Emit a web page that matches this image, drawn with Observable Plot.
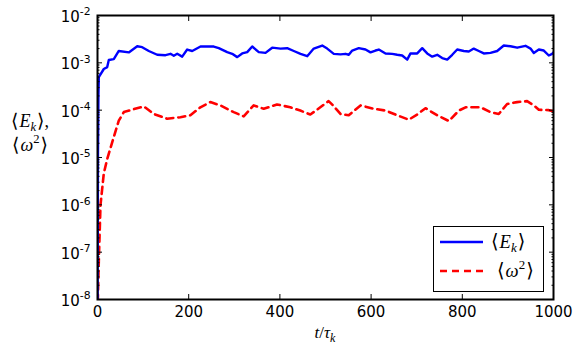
<!DOCTYPE html>
<html>
<head>
<meta charset="utf-8">
<script src="https://cdn.jsdelivr.net/npm/d3@7"></script>
<script src="https://cdn.jsdelivr.net/npm/@observablehq/plot@0.6"></script>
<style>
  html, body { margin: 0; padding: 0; background: white; }
  #chart { width: 581px; height: 351px; }
</style>
</head>
<body>
<div id="chart"></div>
<script>
// Kinetic energy <E_k> vs t/tau_k
const tE = [0, 1, 2, 2.9, 13.8, 21.3, 24.8, 35.7, 46.7, 68.6,
  87.1, 98.0, 112.5, 130.9, 149.1, 160.1, 167.3, 174.8, 185.7, 196.7,
  207.7, 225.9, 255.0, 266.0, 284.4, 295.4, 306.4, 317.3, 328.3, 339.3,
  353.7, 368.4, 383.1, 401.3, 416.0, 430.5, 445.2, 459.9, 474.3, 492.8,
  503.7, 518.2, 532.9, 543.9, 551.1, 558.6, 573.0, 587.7, 598.7, 609.6,
  616.9, 631.6, 646.3, 657.2, 668.2, 679.2, 686.4, 701.1, 712.1, 723.0,
  734.0, 745.0, 755.9, 766.9, 777.9, 788.8, 803.3, 814.3, 825.2, 836.2,
  847.1, 861.8, 876.5, 891.0, 905.7, 920.4, 938.6, 949.6, 956.8, 967.8,
  978.7, 989.7, 997.1, 1000];
const Ek = [1e-9, 1e-5, 2e-4, 5.01e-4, 7.41e-4, 8.13e-4, 1.15e-3, 1.20e-3, 1.78e-3, 1.66e-3,
  2.24e-3, 2.14e-3, 1.78e-3, 1.48e-3, 1.45e-3, 1.55e-3, 1.41e-3, 1.55e-3, 1.35e-3, 1.91e-3,
  1.78e-3, 2.21e-3, 2.21e-3, 2.04e-3, 1.68e-3, 1.55e-3, 1.32e-3, 1.58e-3, 1.68e-3, 2.21e-3,
  1.68e-3, 1.62e-3, 2.09e-3, 2.00e-3, 2.04e-3, 1.78e-3, 1.55e-3, 1.38e-3, 2.00e-3, 2.32e-3,
  2.00e-3, 1.55e-3, 1.51e-3, 1.55e-3, 1.48e-3, 1.82e-3, 2.04e-3, 1.91e-3, 1.66e-3, 1.82e-3,
  1.91e-3, 1.58e-3, 1.55e-3, 1.48e-3, 1.43e-3, 1.17e-3, 1.58e-3, 1.58e-3, 2.04e-3, 1.58e-3,
  1.35e-3, 1.48e-3, 1.26e-3, 1.17e-3, 1.48e-3, 1.91e-3, 1.78e-3, 1.74e-3, 2.00e-3, 1.78e-3,
  1.58e-3, 1.62e-3, 1.78e-3, 2.32e-3, 2.24e-3, 2.09e-3, 2.29e-3, 2.00e-3, 1.62e-3, 1.91e-3,
  1.82e-3, 1.43e-3, 1.55e-3, 1.66e-3];

// Enstrophy <omega^2> vs t/tau_k
const tW = [0, 2.9, 6.6, 13.8, 21.3, 35.7, 46.7, 57.7, 79.6, 101.5,
  123.5, 152.7, 181.8, 203.7, 225.6, 247.5, 269.5, 298.7, 320.6, 342.5,
  364.5, 393.6, 422.8, 444.7, 466.7, 488.6, 506.8, 515.4, 532.9, 550.9,
  576.8, 606, 631.6, 657.2, 682.7, 701.1, 719.3, 745, 770.5, 792.5,
  807.1, 840, 861.8, 880, 898.3, 920.2, 942.1, 956.8, 967.8, 989.7, 1000];
const W2 = [5.0e-9, 6.6e-8, 1.0e-6, 4.6e-6, 9.3e-6, 2.7e-5, 6.0e-5, 9.1e-5, 1.05e-4, 1.20e-4,
  8.3e-5, 6.6e-5, 7.1e-5, 7.8e-5, 1.15e-4, 1.48e-4, 1.26e-4, 9.1e-5, 7.4e-5, 1.26e-4,
  1.07e-4, 1.32e-4, 1.15e-4, 9.8e-5, 8.1e-5, 1.15e-4, 1.55e-4, 1.29e-4, 8.3e-5, 7.8e-5,
  1.26e-4, 1.07e-4, 9.8e-5, 7.8e-5, 6.3e-5, 8.1e-5, 1.10e-4, 7.8e-5, 5.9e-5, 9.8e-5,
  1.15e-4, 1.15e-4, 9.1e-5, 8.3e-5, 1.35e-4, 1.48e-4, 1.55e-4, 1.26e-4, 1.02e-4, 1.0e-4, 9.5e-5];

const xTicks = [0, 200, 400, 600, 800, 1000];
const yTicks = [1e-8, 1e-7, 1e-6, 1e-5, 1e-4, 1e-3, 1e-2];
const yMinor = [];
for (let e = -8; e < -2; e++) for (let k = 2; k <= 9; k++) yMinor.push(k * Math.pow(10, e));

const seriesE = tE.map((t, i) => ({t, v: Ek[i]}));
const seriesW = tW.map((t, i) => ({t, v: W2[i]}));

const fs = 15;
const plot = Plot.plot({
  width: 581,
  height: 351,
  marginLeft: 97,
  marginRight: 28,
  marginTop: 15,
  marginBottom: 52,
  style: {fontFamily: "DejaVu Sans", fontSize: fs + "px", background: "white", color: "black"},
  x: {domain: [0, 1000]},
  y: {type: "log", domain: [1e-8, 1e-2]},
  marks: [
    Plot.line(seriesW, {x: "t", y: "v", stroke: "#ff0000", strokeWidth: 2.6, strokeDasharray: "7,5", clip: true, curve: "linear"}),
    Plot.line(seriesE, {x: "t", y: "v", stroke: "#0000ff", strokeWidth: 2.4, clip: true, curve: "linear"}),
    // tick labels
    Plot.axisX({anchor: "bottom", ticks: xTicks, tickSize: 0, tickPadding: 7, tickFormat: d => String(d), label: null, fontSize: fs}),
    Plot.axisY({anchor: "left", ticks: yTicks, tickSize: 0, tickPadding: 7, tickFormat: d => "10^" + Math.round(Math.log10(d)), label: null, fontSize: fs}),
    // inward ticks
    Plot.axisX({anchor: "bottom", ticks: xTicks, tickSize: -5, tickFormat: () => "", label: null}),
    Plot.axisX({anchor: "top", ticks: xTicks, tickSize: -5, tickFormat: () => "", label: null}),
    Plot.axisY({anchor: "left", ticks: yTicks, tickSize: -5, tickFormat: () => "", label: null}),
    Plot.axisY({anchor: "right", ticks: yTicks, tickSize: -5, tickFormat: () => "", label: null}),
    Plot.axisY({anchor: "left", ticks: yMinor, tickSize: -2.5, tickFormat: () => "", label: null}),
    Plot.axisY({anchor: "right", ticks: yMinor, tickSize: -2.5, tickFormat: () => "", label: null}),
    Plot.frame({stroke: "black", strokeWidth: 2})
  ]
});
document.getElementById("chart").appendChild(plot);

const svg = d3.select(plot);

// superscripts on y tick labels
svg.selectAll('g[aria-label="y-axis tick label"] text').each(function() {
  const txt = this.textContent;
  if (!txt.includes("^")) return;
  const [b, e] = txt.split("^");
  const sel = d3.select(this);
  sel.text(null);
  sel.append("tspan").text(b).attr("dy", "0.12em");
  sel.append("tspan").text(e).attr("dy", "-0.62em").attr("font-size", "0.72em");
});

const serif = "'Liberation Serif', 'DejaVu Serif', serif";
const brk = "'DejaVu Serif', 'DejaVu Sans', serif";

function angle(sel, x, y, anchor, parts, size) {
  const t = sel.append("text").attr("x", x).attr("y", y)
    .attr("text-anchor", anchor)
    .attr("font-family", serif).attr("font-size", size).attr("fill", "black");
  t.append("tspan").attr("font-family", brk).attr("font-size", size + 1).text("⟨");
  parts(t, size);
  return t;
}

// x label  t/τ_k
const xl = svg.append("text")
  .attr("x", 325).attr("y", 338)
  .attr("text-anchor", "middle")
  .attr("font-family", serif)
  .attr("font-size", 17)
  .attr("fill", "black");
xl.append("tspan").attr("font-style", "italic").text("t");
xl.append("tspan").text("/");
xl.append("tspan").attr("font-style", "italic").text("τ");
xl.append("tspan").attr("font-style", "italic").attr("font-size", 12).attr("dy", 4).text("k");

function ekParts(t, size, comma) {
  t.append("tspan").attr("font-style", "italic").attr("dx", 1).text("E");
  t.append("tspan").attr("font-style", "italic").attr("font-size", size * 0.7).attr("dy", 4).text("k");
  t.append("tspan").attr("font-family", brk).attr("font-size", size + 1).attr("dy", -4).attr("dx", 1).text("⟩");
  if (comma) t.append("tspan").text(",");
}
function wParts(t, size) {
  t.append("tspan").attr("font-style", "italic").attr("dx", 1).text("ω");
  t.append("tspan").attr("font-size", size * 0.7).attr("dy", -8).text("2");
  t.append("tspan").attr("font-family", brk).attr("font-size", size + 1).attr("dy", 8).attr("dx", 1).text("⟩");
}

// y label (two lines)
angle(svg, 30, 127, "middle", (t, s) => ekParts(t, s, true), 18);
angle(svg, 30, 151, "middle", (t, s) => wParts(t, s), 18);

// legend
const lg = svg.append("g");
lg.append("rect").attr("x", 433.5).attr("y", 226.5).attr("width", 110).attr("height", 65)
  .attr("fill", "white").attr("stroke", "black").attr("stroke-width", 1);
lg.append("line").attr("x1", 440).attr("x2", 483).attr("y1", 242).attr("y2", 242)
  .attr("stroke", "#0000ff").attr("stroke-width", 2.4);
lg.append("line").attr("x1", 440).attr("x2", 483).attr("y1", 271).attr("y2", 271)
  .attr("stroke", "#ff0000").attr("stroke-width", 2.6).attr("stroke-dasharray", "7,5");
angle(lg, 491, 248, "start", (t, s) => ekParts(t, s, false), 18.5);
angle(lg, 497, 277, "start", (t, s) => wParts(t, s), 18.5);
</script>
</body>
</html>
